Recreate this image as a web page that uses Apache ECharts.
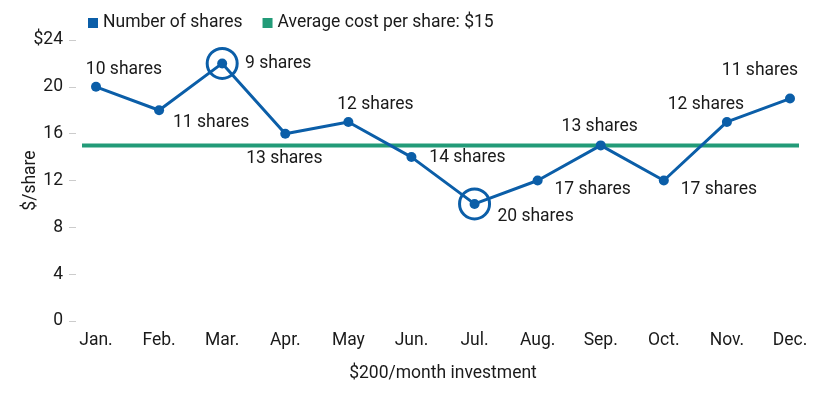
<!DOCTYPE html>
<html>
<head>
<meta charset="utf-8">
<script src="https://cdn.jsdelivr.net/npm/echarts@6/dist/echarts.min.js"></script>
<style>
  html, body { margin: 0; padding: 0; background: #fff; }
  #chart { width: 817px; height: 399px; }
</style>
</head>
<body>
<div id="chart"></div>
<script>
"use strict";

var months = ['Jan.', 'Feb.', 'Mar.', 'Apr.', 'May', 'Jun.', 'Jul.', 'Aug.', 'Sep.', 'Oct.', 'Nov.', 'Dec.'];
var prices = [20, 18, 22, 16, 17, 14, 10, 12, 15, 12, 17, 19];
var shares = [10, 11, 9, 13, 12, 14, 20, 17, 13, 17, 12, 11];
var avgCost = 15;
var circled = ['Mar.', 'Jul.'];

// label placement, offset of label centre from the point
var labelOffsets = [[28, -17], [52, 12], [56, 0], [-1, 25], [27, -17], [56, 1],
                    [61, 13], [55, 9], [-1, -19], [55, 9], [-21, -17], [-30, -28]];

var blue = '#0b5ea8';
var green = '#229b78';
var textColor = '#1a1a1a';
var font = 'Roboto';
var fs = 17.5;

var chart = echarts.init(document.getElementById('chart'));

var option = {
    animation: false,
    textStyle: { fontFamily: font, color: textColor },
    legend: {
        left: 83,
        top: 9,
        icon: 'rect',
        itemWidth: 10,
        itemHeight: 10,
        itemGap: 20,
        textStyle: { fontSize: fs, color: textColor, fontFamily: font },
        data: ['Number of shares', 'Average cost per share: $' + avgCost]
    },
    grid: [
        { left: 96, right: 27, top: 40, bottom: 78 },
        { left: 82, right: 18, top: 40, bottom: 78 }
    ],
    xAxis: [
        {
            type: 'category',
            gridIndex: 0,
            data: months,
            boundaryGap: false,
            axisLine: { show: false },
            axisTick: { show: false },
            axisLabel: { fontSize: fs, color: textColor, margin: 11, fontFamily: font },
            name: '$200/month investment',
            nameLocation: 'middle',
            nameGap: 44,
            nameTextStyle: { fontSize: fs, color: textColor, fontFamily: font }
        },
        {
            type: 'category',
            gridIndex: 1,
            data: ['a', 'b'],
            boundaryGap: false,
            show: false
        }
    ],
    yAxis: [
        {
            type: 'value',
            gridIndex: 0,
            min: 0,
            max: 24,
            interval: 4,
            offset: 20,
            axisLine: { show: false },
            axisTick: { show: true, length: 7, lineStyle: { color: '#ccc' } },
            splitLine: { show: false },
            axisLabel: {
                fontSize: fs, color: textColor, margin: 13, fontFamily: font,
                formatter: function (v) { return v === 24 ? '$' + v : String(v); }
            },
            name: '$/share',
            nameLocation: 'middle',
            nameGap: 36,
            nameMoveOverlap: false,
            nameTextStyle: { fontSize: fs, color: textColor, fontFamily: font }
        },
        {
            type: 'value',
            gridIndex: 1,
            min: 0,
            max: 24,
            show: false
        }
    ],
    series: [
        {
            name: 'Average cost per share: $' + avgCost,
            type: 'line',
            xAxisIndex: 1,
            yAxisIndex: 1,
            data: [avgCost, avgCost],
            symbol: 'none',
            lineStyle: { color: green, width: 4 },
            itemStyle: { color: green },
            z: 1
        },
        {
            name: 'Number of shares',
            type: 'line',
            xAxisIndex: 0,
            yAxisIndex: 0,
            data: prices.map(function (p, i) {
                return {
                    value: p,
                    label: {
                        show: true,
                        position: 'inside',
                        offset: labelOffsets[i],
                        formatter: shares[i] + ' shares'
                    }
                };
            }),
            symbol: 'circle',
            symbolSize: 10,
            lineStyle: { color: blue, width: 3 },
            itemStyle: { color: blue },
            label: { fontSize: fs, color: textColor, fontFamily: font },
            markPoint: {
                symbol: 'circle',
                symbolSize: 30,
                label: { show: false },
                itemStyle: { color: 'rgba(0,0,0,0)', borderColor: blue, borderWidth: 3 },
                data: circled.map(function (m) {
                    var idx = months.indexOf(m);
                    return { coord: [m, prices[idx]] };
                })
            },
            z: 3
        }
    ]
};

chart.setOption(option);
</script>
</body>
</html>
